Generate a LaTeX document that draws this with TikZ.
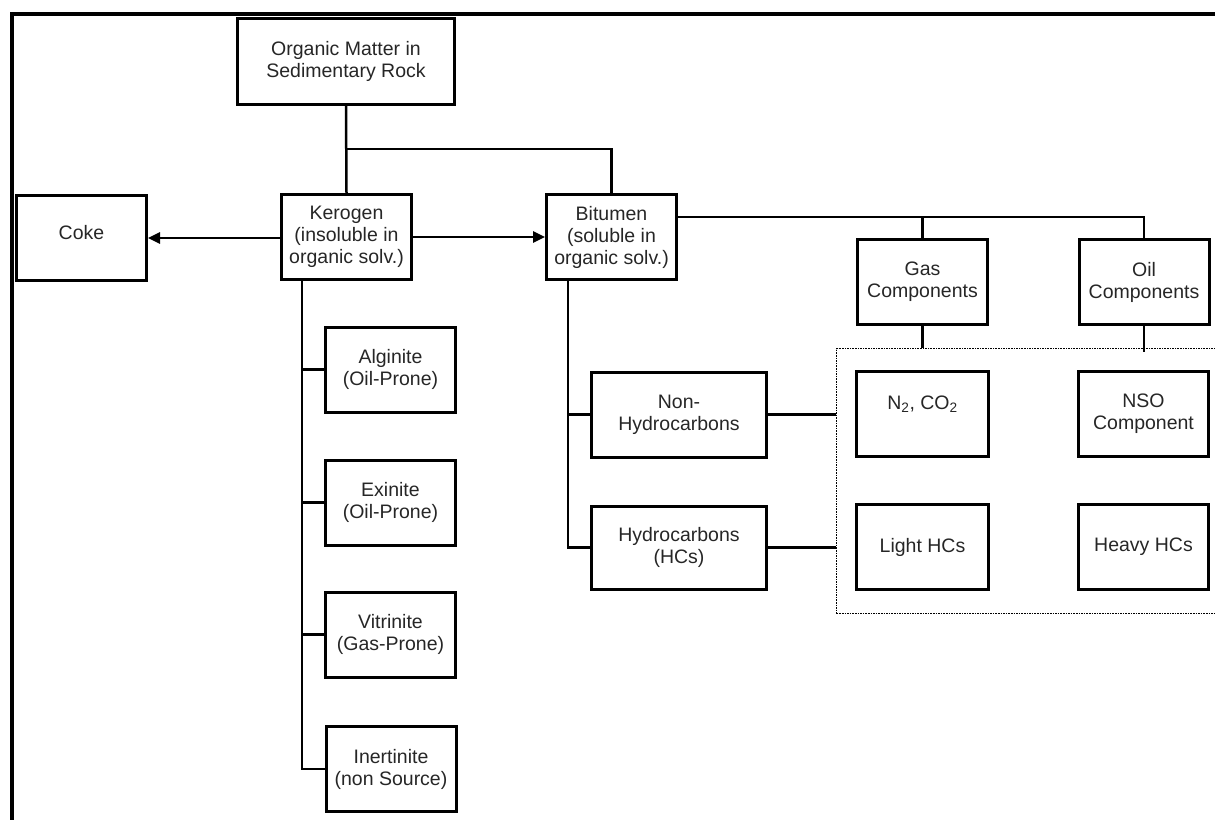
\documentclass[tikz,border=0pt]{standalone}
\usepackage{fontspec}
\setmainfont{Liberation Sans}
\usetikzlibrary{arrows.meta}
\begin{document}
\begin{tikzpicture}[x=1pt,y=-1pt,
  box/.style={draw=black, line width=3pt, inner sep=0pt, align=center,
    text=black!85, minimum width=130pt, minimum height=85pt,
    font=\fontsize{19.5}{22}\selectfont},
  widebox/.style={box, minimum width=175pt},
  link/.style={draw=black, line width=2.5pt},
  arrowlink/.style={link, -{Triangle[length=12pt,width=11pt]}},
  group/.style={draw=black, line width=1.4pt, dash pattern=on 1.6pt off 1pt,
    inner sep=0pt, minimum width=400pt, minimum height=265pt, anchor=north west},
  frame/.style={draw=black, line width=4.5pt}
]
\useasboundingbox (0,0) rectangle (1215,819);
\clip (0,0) rectangle (1215,819);
% outer frame
\draw[frame] (12,830) -- (12,14) -- (1230,14);

% nodes
\node[box, minimum width=217pt, minimum height=86pt] (om) at (346,61.5) {Organic Matter in\\Sedimentary Rock};
\node[box] (ker) at (346.5,237) {Kerogen\\(insoluble in\\organic solv.)};
\node[box] (coke) at (81.5,238) {\raisebox{12pt}{Coke}};
\node[box] (bit) at (611.5,237) {Bitumen\\(soluble in\\organic solv.)};

\node[box] (alg) at (390.5,369.5) {Alginite\\(Oil-Prone)};
\node[box] (exi) at (390.5,502.5) {Exinite\\(Oil-Prone)};
\node[box] (vit) at (390.5,634.5) {Vitrinite\\(Gas-Prone)};
\node[box] (ine) at (391,769) {Inertinite\\(non Source)};

\node[widebox] (nonhc) at (679,414.5) {Non-\\Hydrocarbons};
\node[widebox, minimum height=83pt] (hc) at (679,547.5) {Hydrocarbons\\(HCs)};

\node[box] (gas) at (922.5,282) {Gas\\Components};
\node[box] (oil) at (1144,282) {Oil\\Components};

\node[group] (grp) at (836,348) {};

\node[box, minimum width=132pt] (n2) at (922.5,414) {N\textsubscript{2}, CO\textsubscript{2}\\\mbox{}};
\node[box] (nso) at (1143.5,414) {NSO\\Component};
\node[box, minimum width=132pt] (light) at (922.5,547) {Light HCs};
\node[box] (heavy) at (1143.5,547) {Heavy HCs};

% junction coordinates
\coordinate (j1) at (346,149);
\coordinate (ktrunk) at (302,0);
\coordinate (btrunk) at (568,0);
\coordinate (j2) at (678,217);

% connectors
\draw[link] (om.south) -- (ker.north);
\draw[link] (j1) -| (bit.north);
\draw[arrowlink] (ker.west |- coke.east) -- (coke.east);
\draw[arrowlink] (ker.east) -- (bit.west);

\draw[link] (ker.south -| ktrunk) |- (ine.west);
\draw[link] (ktrunk |- alg.west) -- (alg.west);
\draw[link] (ktrunk |- exi.west) -- (exi.west);
\draw[link] (ktrunk |- vit.west) -- (vit.west);

\draw[link] (bit.south -| btrunk) |- (hc.west);
\draw[link] (btrunk |- nonhc.west) -- (nonhc.west);

\draw[link] (nonhc.east) -- (grp.west |- nonhc.east);
\draw[link] (hc.east) -- (grp.west |- hc.east);

\draw[link] (j2) -| (oil.north);
\draw[link] (gas.north |- j2) -- (gas.north);
\draw[link] (gas.south) -- (gas.south |- grp.north);
\draw[link] (oil.south) -- ([yshift=-4pt]oil.south |- grp.north);
\end{tikzpicture}
\end{document}
